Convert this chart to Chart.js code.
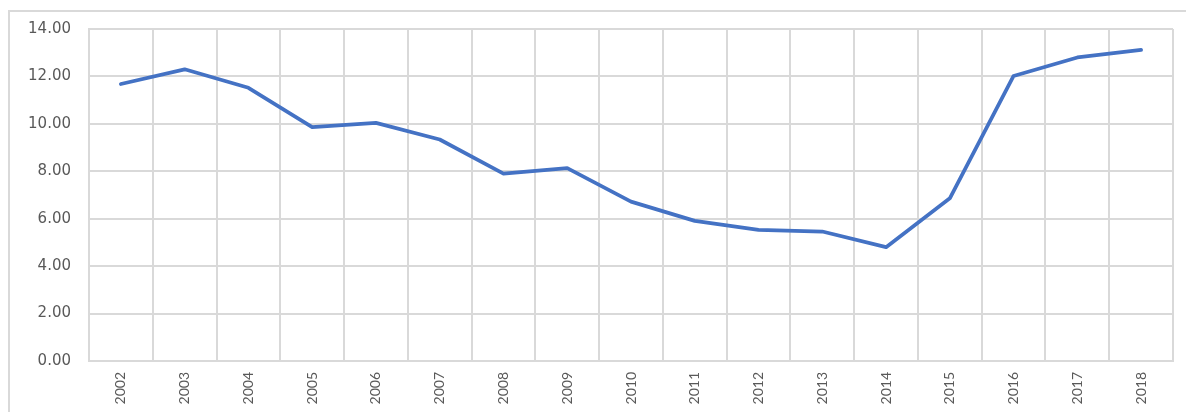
<!DOCTYPE html>
<html>
<head>
<meta charset="utf-8">
<script src="https://cdn.jsdelivr.net/npm/chart.js@4/dist/chart.umd.min.js"></script>
<style>
    html, body { margin: 0; padding: 0; background: #fff; overflow: hidden; }
    #wrap { position: relative; width: 1186px; height: 412px; }
    #frame { position: absolute; left: 8px; top: 10px; width: 1200px; height: 420px; border: 2px solid #d9d9d9; box-sizing: border-box; }
    #myChart { position: absolute; left: 0; top: 0; }
</style>
</head>
<body>
<div id="wrap">
    <div id="frame"></div>
    <canvas id="myChart" width="1186" height="412"></canvas>
</div>
<script>
// years on the x axis
years = ['2002', '2003', '2004', '2005', '2006', '2007', '2008', '2009', '2010',
    '2011', '2012', '2013', '2014', '2015', '2016', '2017', '2018'];
// values
values = [11.68, 12.30, 11.52, 9.86, 10.04, 9.34, 7.90, 8.13, 6.72,
    5.91, 5.53, 5.46, 4.80, 6.86, 12.02, 12.80, 13.12];
yTicks = [0, 2, 4, 6, 8, 10, 12, 14];

var gridColor = '#d9d9d9';
var textColor = '#595959';

var canvas = document.getElementById('myChart');
var myChart = new Chart(canvas, {
    type: 'line',
    data: {
        labels: years,
        datasets: [{
            data: values,
            borderColor: '#4472c4',
            backgroundColor: '#4472c4',
            borderWidth: 3.75,
            pointRadius: 0,
            tension: 0,
            borderCapStyle: 'round',
            borderJoinStyle: 'round'
        }]
    },
    options: {
        responsive: false,
        animation: false,
        layout: {
            padding: { top: 29, right: 13, bottom: 0, left: 0 }
        },
        plugins: {
            legend: { display: false },
            tooltip: { enabled: false }
        },
        scales: {
            x: {
                offset: true,
                grid: { color: gridColor, lineWidth: 2, offset: true, drawTicks: false },
                border: { color: gridColor, width: 2 },
                ticks: {
                    color: textColor,
                    font: { family: 'Lato', size: 14 },
                    minRotation: 90,
                    maxRotation: 90,
                    padding: 11
                },
                afterFit: function (scale) { scale.height = 51; }
            },
            y: {
                min: 0,
                max: 14,
                afterBuildTicks: function (scale) {
                    scale.ticks = yTicks.map(v => ({ value: v }));
                },
                grid: { color: gridColor, lineWidth: 2, drawTicks: false },
                border: { color: gridColor, width: 2 },
                ticks: {
                    color: textColor,
                    font: { family: 'DejaVu Sans', size: 15 },
                    padding: 18,
                    callback: function (v) { return Number(v).toFixed(2); }
                },
                afterFit: function (scale) { scale.width = 89; }
            }
        }
    }
});
</script>
</body>
</html>
